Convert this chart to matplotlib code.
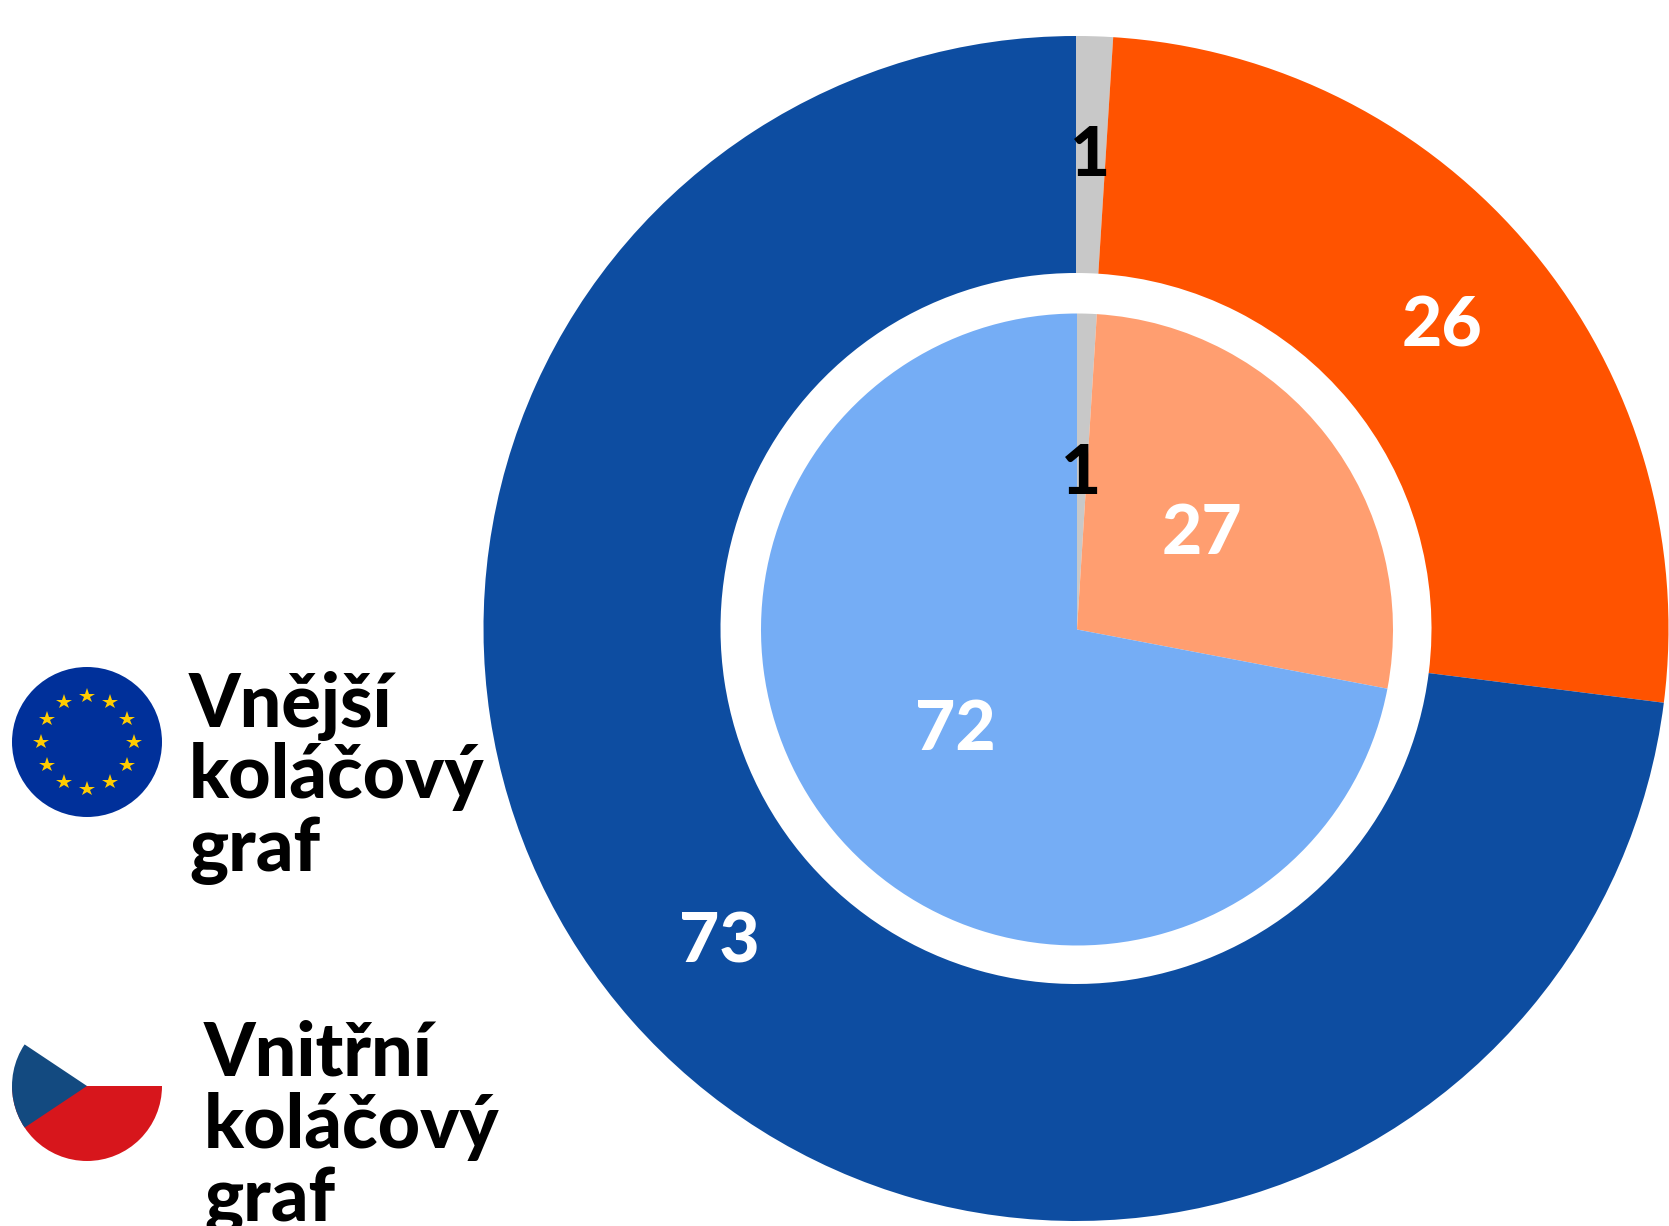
import math
import matplotlib
matplotlib.use('Agg')
import matplotlib.pyplot as plt
from matplotlib.patches import Circle, Polygon

outer_values = [1, 26, 73]
inner_values = [1, 27, 72]
outer_colors = ['#C8C8C8', '#FF5300', '#0D4DA1']
inner_colors = ['#C8C8C8', '#FF9E70', '#75ADF5']
outer_label_colors = ['black', 'white', 'white']
inner_label_colors = ['black', 'white', 'white']
outer_labels = ['1', '26', '73']
inner_labels = ['1', '27', '72']
legend_outer = ['Vnější', 'koláčový', 'graf']
legend_inner = ['Vnitřní', 'koláčový', 'graf']

W, H = 1669, 1226

plt.rcParams['font.family'] = ['Lato', 'DejaVu Sans']
fig = plt.figure(figsize=(W / 100, H / 100), dpi=100)
ax = fig.add_axes([0, 0, 1, 1])


def fy(py):
    # pixel y measured from the top of the picture
    return H - py


ax.pie(outer_values, colors=outer_colors, startangle=90, counterclock=False,
       center=(1076, fy(628.5)), radius=592.5, wedgeprops={'width': 592.5 - 355.5})
ax.pie(inner_values, colors=inner_colors, startangle=90, counterclock=False,
       center=(1077, fy(629.5)), radius=316)

outer_pos = [(1090, 156), (1442, 327), (719, 943)]
inner_pos = [(1081, 474), (1202, 534), (955, 730)]
for labels, pos, cols in [(outer_labels, outer_pos, outer_label_colors),
                          (inner_labels, inner_pos, inner_label_colors)]:
    for lab, (x, y), c in zip(labels, pos, cols):
        ax.text(x, fy(y), lab, color=c, fontsize=50, fontweight='black',
                ha='center', va='center')

# EU flag
ax.add_patch(Circle((87, fy(742)), 75, fc='#00309A', ec='none'))
for i in range(12):
    a = math.radians(30 * i)
    ax.plot(87 + 46.5 * math.sin(a), fy(742) + 46.5 * math.cos(a), marker='*',
            color='#FFCC00', markersize=11.5, markeredgewidth=0)

# Czech flag
cz_y = fy(1086)
red = Circle((87, cz_y), 75, fc='#D7161C', ec='none')
ax.add_patch(red)
red.set_clip_path(Polygon([(0, cz_y), (170, cz_y), (170, cz_y - 90), (0, cz_y - 90)],
                          transform=ax.transData))
blue = Circle((87, cz_y), 75, fc='#134A80', ec='none')
ax.add_patch(blue)
blue.set_clip_path(Polygon([(87, cz_y), (-6, cz_y - 62), (-6, cz_y + 62)],
                           transform=ax.transData))

for lines, x, baselines in [(legend_outer, 189, [727, 798, 871]),
                            (legend_inner, 204, [1076, 1148, 1221])]:
    for line, b in zip(lines, baselines):
        ax.text(x, fy(b), line, color='black', fontsize=53, fontweight='black',
                ha='left', va='baseline')

ax.set_xlim(0, W)
ax.set_ylim(0, H)
ax.set_aspect('equal')
ax.axis('off')
fig.savefig('out.png', dpi=100)
